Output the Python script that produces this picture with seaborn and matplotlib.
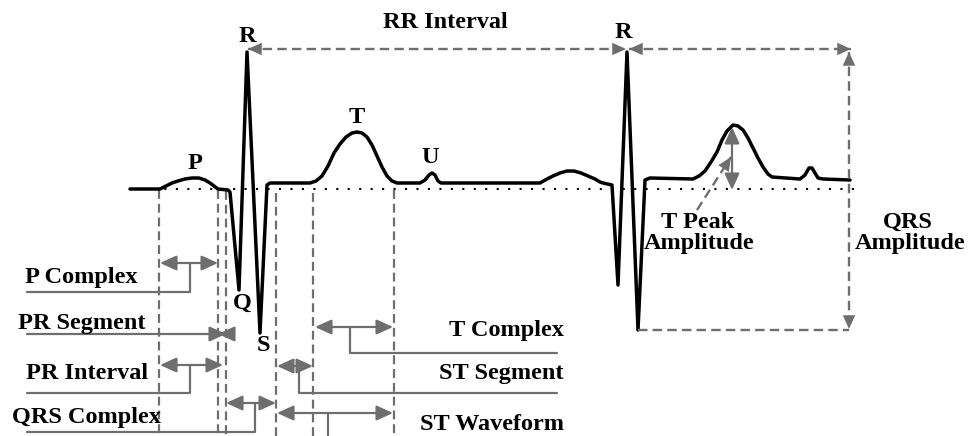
import matplotlib
matplotlib.use("Agg")
import matplotlib.pyplot as plt
import seaborn as sns

# ---------------- ECG trace (image pixel coordinates) ----------------
trace_x = [130, 160, 166, 172, 178, 185, 192, 199, 205, 210, 214, 218, 228, 230, 239, 247, 260, 267, 270,
           310, 316, 322, 328, 334, 340, 346, 352, 357, 362, 367, 372, 377, 382, 387, 392, 397,
           420, 425, 429, 432, 435, 438, 441,
           540, 547, 553, 560, 567, 574, 581, 588, 595, 600, 603, 612, 618, 627, 638, 645, 650,
           693, 699, 705, 711, 717, 722, 727, 733, 738, 743, 748, 753, 758, 763, 768, 772,
           800, 805, 809, 812, 815, 818, 823, 850]
trace_y = [189, 189, 186, 183, 181, 179, 178, 178, 180, 183, 186, 189, 190, 192, 290, 52, 333, 185, 183,
           183, 181, 176, 166, 153, 144, 137, 133, 132, 133, 137, 145, 156, 167, 176, 181, 183,
           183, 180, 175, 173, 175, 181, 183,
           183, 179, 176, 173, 171, 171, 173, 176, 179, 182, 183, 185, 285, 52, 330, 180, 178,
           179, 176, 171, 162, 152, 140, 131, 125, 126, 130, 138, 148, 158, 167, 174, 177,
           179, 175, 168, 168, 173, 178, 179, 180]

baseline_x = [130, 860]
baseline_y = 189

# vertical dashed guides
guide_x = [159, 218, 226, 276, 313, 394]
guide_top = [190, 190, 191, 193, 193, 190]

# wave letters
wave_labels = ["P", "R", "Q", "S", "T", "U", "R"]
wave_x = [195, 247, 242, 263, 357, 430, 623]
wave_y = [163, 36, 303, 345, 117, 157, 32]

# left-side interval brackets
left_names = ["P Complex", "PR Segment", "PR Interval", "QRS Complex"]
left_text_x = [25, 18, 26, 12]
left_text_y = [283, 329, 379, 423]
left_a0 = [160, 218, 160, 226]
left_a1 = [218, 226, 223, 276]
left_ay = [263, 334, 365, 403]
left_tick = [190, 218, 190, 255]
left_ly = [292, 334, 393, 432]

# right-side interval brackets
right_names = ["T Complex", "ST Segment", "ST Waveform"]
right_text_y = [336, 379, 430]
right_a0 = [315, 277, 277]
right_a1 = [393, 313, 393]
right_ay = [327, 366, 413]
right_tick = [350, 299, 328]
right_ly = [353, 393, 440]

GRAY = "#6e6e6e"
FONT = dict(family="Liberation Serif", weight="bold", fontsize=17.5, color="black")
HEAD = "head_length=0.66,head_width=0.3"

sns.set_style("white")
fig = plt.figure(figsize=(9.69, 4.36), dpi=100)
ax = fig.add_axes([0, 0, 1, 1])
ax.set_xlim(0, 969)
ax.set_ylim(436, 0)
ax.set_axis_off()


def solid_arrow(p0, p1, style="<|-|>"):
    ax.annotate("", xy=p1, xytext=p0,
                arrowprops=dict(arrowstyle=f"{style},{HEAD}", mutation_scale=15,
                                color=GRAY, lw=1.6, shrinkA=0, shrinkB=0))


def dashed_arrow(p0, p1, style="<|-|>"):
    ax.plot([p0[0], p1[0]], [p0[1], p1[1]], color=GRAY, lw=1.7, dashes=(4, 2.2))
    ax.annotate("", xy=p1, xytext=p0,
                arrowprops=dict(arrowstyle=f"{style},{HEAD}", mutation_scale=15,
                                color=GRAY, lw=0, shrinkA=0, shrinkB=0))


# dotted baseline
ax.plot(baseline_x, [baseline_y, baseline_y], color="black", lw=1.5, ls=(0, (1, 4.5)))

# vertical guides
for gx, gt in zip(guide_x, guide_top):
    ax.plot([gx, gx], [gt, 440], color=GRAY, lw=1.6, dashes=(4, 2.2))

# ECG trace
sns.lineplot(x=trace_x, y=trace_y, sort=False, estimator=None, color="black",
             lw=2.5, ax=ax, solid_joinstyle="round")

# wave letters
for lab, x, y in zip(wave_labels, wave_x, wave_y):
    ax.text(x, y, lab, ha="center", va="center", **FONT)

# left brackets
for name, tx, ty, a0, a1, ay, tk, ly in zip(left_names, left_text_x, left_text_y,
                                              left_a0, left_a1, left_ay, left_tick, left_ly):
    solid_arrow((a0, ay), (a1, ay))
    ax.plot([tk, tk, 27], [ay, ly, ly], color=GRAY, lw=1.6)
    ax.text(tx, ty, name, ha="left", va="baseline", **FONT)

# right brackets
for name, ty, a0, a1, ay, tk, ly in zip(right_names, right_text_y, right_a0, right_a1,
                                         right_ay, right_tick, right_ly):
    solid_arrow((a0, ay), (a1, ay))
    ax.plot([tk, tk, 557], [ay, ly, ly], color=GRAY, lw=1.6)
    ax.text(564, ty, name, ha="right", va="baseline", **FONT)

# RR interval and QRS amplitude
dashed_arrow((248, 49), (626, 49))
dashed_arrow((629, 49), (851, 49))
dashed_arrow((849, 52), (849, 329))
ax.plot([638, 849], [330, 330], color=GRAY, lw=1.7, dashes=(4, 2.2))
ax.text(445, 22, "RR Interval", ha="center", va="center", **FONT)

# T peak amplitude
solid_arrow((732, 190), (732, 127))
dashed_arrow((697, 210), (731, 157), style="-|>")
ax.text(698, 228, "T Peak", ha="center", va="baseline", **FONT)
ax.text(699, 249, "Amplitude", ha="center", va="baseline", **FONT)
ax.text(908, 228, "QRS", ha="center", va="baseline", **FONT)
ax.text(910, 249, "Amplitude", ha="center", va="baseline", **FONT)

fig.savefig("out.png", dpi=100, facecolor="white")
